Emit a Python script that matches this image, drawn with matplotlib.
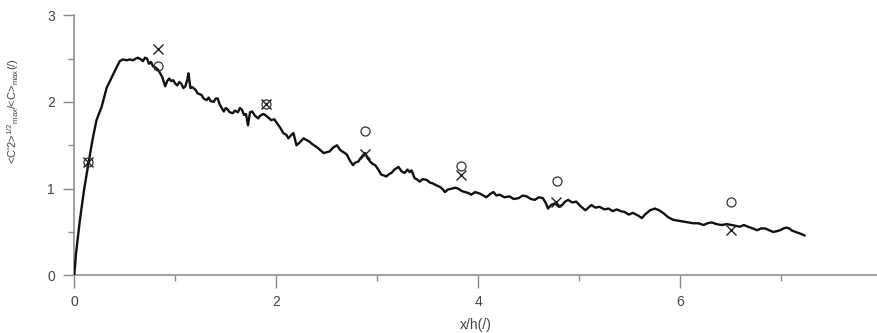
import matplotlib
matplotlib.use("Agg")
import matplotlib.pyplot as plt
from matplotlib.ticker import MultipleLocator

plt.rcParams['font.family'] = ['Liberation Sans', 'DejaVu Sans']
plt.rcParams['mathtext.fontset'] = 'custom'
plt.rcParams['mathtext.rm'] = 'Liberation Sans'
plt.rcParams['mathtext.it'] = 'Liberation Sans'

# measured profile (x/h, normalised rms)
line_x = [0.00, 0.017, 0.056, 0.096, 0.14, 0.18, 0.22, 0.27, 0.32, 0.39, 0.45, 0.48, 0.52, 0.55,
          0.58, 0.61, 0.63, 0.66, 0.68, 0.70, 0.72, 0.74, 0.76, 0.78, 0.80, 0.83, 0.85, 0.87,
          0.90, 0.92, 0.94, 0.96, 0.98, 1.00, 1.02, 1.04, 1.06, 1.08, 1.10, 1.12, 1.13, 1.15,
          1.17, 1.20, 1.22, 1.24, 1.26, 1.28, 1.31, 1.33, 1.35, 1.38, 1.40, 1.42, 1.44, 1.46,
          1.48, 1.50, 1.52, 1.54, 1.57, 1.59, 1.62, 1.64, 1.66, 1.68, 1.70, 1.72, 1.74, 1.76,
          1.79, 1.82, 1.84, 1.87, 1.89, 1.92, 1.95, 1.98, 2.01, 2.04, 2.07, 2.10, 2.12, 2.15,
          2.17, 2.19, 2.20, 2.23, 2.27, 2.30, 2.33, 2.36, 2.40, 2.43, 2.47, 2.50, 2.53, 2.56,
          2.60, 2.63, 2.65, 2.68, 2.70, 2.73, 2.76, 2.78, 2.81, 2.84, 2.88, 2.90, 2.93, 2.96,
          2.98, 3.01, 3.04, 3.07, 3.09, 3.12, 3.14, 3.17, 3.21, 3.24, 3.27, 3.30, 3.32, 3.34,
          3.37, 3.40, 3.42, 3.45, 3.49, 3.52, 3.55, 3.58, 3.62, 3.65, 3.67, 3.70, 3.74, 3.77,
          3.80, 3.84, 3.87, 3.90, 3.93, 3.97, 4.02, 4.05, 4.08, 4.12, 4.15, 4.18, 4.21, 4.26,
          4.31, 4.35, 4.40, 4.44, 4.48, 4.52, 4.56, 4.60, 4.64, 4.67, 4.69, 4.72, 4.76, 4.80,
          4.83, 4.86, 4.89, 4.93, 4.97, 5.01, 5.06, 5.09, 5.12, 5.16, 5.20, 5.25, 5.29, 5.33,
          5.37, 5.41, 5.45, 5.49, 5.53, 5.58, 5.62, 5.65, 5.67, 5.70, 5.75, 5.79, 5.83, 5.88,
          5.93, 5.98, 6.03, 6.08, 6.13, 6.18, 6.23, 6.27, 6.31, 6.36, 6.41, 6.46, 6.51, 6.55,
          6.59, 6.63, 6.67, 6.72, 6.76, 6.80, 6.84, 6.88, 6.92, 6.96, 6.99, 7.02, 7.05, 7.08,
          7.10, 7.14, 7.19, 7.23]
line_y = [0.00, 0.25, 0.64, 0.98, 1.29, 1.56, 1.79, 1.94, 2.16, 2.33, 2.47, 2.49, 2.48, 2.49,
          2.48, 2.50, 2.51, 2.49, 2.47, 2.51, 2.50, 2.44, 2.46, 2.41, 2.40, 2.37, 2.33, 2.29,
          2.18, 2.24, 2.27, 2.24, 2.25, 2.21, 2.19, 2.23, 2.21, 2.16, 2.18, 2.26, 2.33, 2.16,
          2.17, 2.14, 2.10, 2.09, 2.08, 2.04, 2.02, 2.05, 2.01, 2.00, 2.04, 2.04, 1.97, 1.93,
          1.89, 1.93, 1.91, 1.88, 1.87, 1.90, 1.88, 1.93, 1.91, 1.85, 1.86, 1.73, 1.88, 1.89,
          1.84, 1.81, 1.84, 1.86, 1.85, 1.82, 1.79, 1.80, 1.75, 1.70, 1.64, 1.62, 1.58, 1.62,
          1.64, 1.55, 1.50, 1.53, 1.58, 1.56, 1.54, 1.51, 1.48, 1.45, 1.41, 1.42, 1.43, 1.47,
          1.50, 1.45, 1.43, 1.41, 1.39, 1.32, 1.27, 1.30, 1.31, 1.36, 1.41, 1.36, 1.31, 1.28,
          1.27, 1.22, 1.16, 1.15, 1.14, 1.17, 1.18, 1.22, 1.25, 1.20, 1.18, 1.22, 1.19, 1.21,
          1.12, 1.10, 1.08, 1.11, 1.10, 1.07, 1.06, 1.04, 1.02, 0.99, 0.96, 0.99, 1.00, 1.01,
          1.00, 0.97, 0.96, 0.95, 0.93, 0.96, 0.94, 0.92, 0.90, 0.94, 0.96, 0.92, 0.93, 0.90,
          0.91, 0.88, 0.89, 0.92, 0.91, 0.88, 0.87, 0.90, 0.89, 0.83, 0.77, 0.81, 0.83, 0.79,
          0.81, 0.85, 0.87, 0.84, 0.85, 0.80, 0.75, 0.78, 0.81, 0.78, 0.79, 0.76, 0.77, 0.74,
          0.76, 0.74, 0.73, 0.70, 0.72, 0.69, 0.66, 0.70, 0.72, 0.75, 0.77, 0.75, 0.72, 0.67,
          0.64, 0.63, 0.62, 0.61, 0.60, 0.60, 0.58, 0.60, 0.61, 0.59, 0.58, 0.59, 0.58, 0.57,
          0.56, 0.58, 0.56, 0.54, 0.52, 0.54, 0.54, 0.52, 0.50, 0.51, 0.52, 0.54, 0.55, 0.54,
          0.52, 0.50, 0.48, 0.46]

# discrete measurements
circle_x = [0.14, 0.83, 1.90, 2.88, 3.83, 4.78, 6.50]
circle_y = [1.31, 2.41, 1.98, 1.67, 1.26, 1.09, 0.84]
cross_x = [0.14, 0.83, 1.90, 2.88, 3.83, 4.77, 6.50]
cross_y = [1.31, 2.61, 1.98, 1.40, 1.16, 0.84, 0.52]

x_ticks = [0, 2, 4, 6, 8]
y_ticks = [0, 1, 2, 3]

fig = plt.figure(figsize=(8.77, 3.33), dpi=100)
ax = fig.add_axes([0.0847, 0.1733, 0.9213, 0.781])

ax.plot(line_x, line_y, color='#111111', lw=1.7, zorder=3)
ax.plot(circle_x, circle_y, linestyle='none', marker='o', ms=6.5, mfc='none',
        mec='#333333', mew=0.9, zorder=4)
ax.plot(cross_x, cross_y, linestyle='none', marker='x', ms=6.5,
        mec='#222222', mew=1.0, zorder=4)

ax.set_xlim(0, 8)
ax.set_ylim(0, 3)
ax.set_xticks(x_ticks)
ax.set_yticks(y_ticks)
ax.xaxis.set_minor_locator(MultipleLocator(1))
ax.yaxis.set_minor_locator(MultipleLocator(0.5))

for s in ['top', 'right']:
    ax.spines[s].set_visible(False)
for s in ['left', 'bottom']:
    ax.spines[s].set_color('#888888')
    ax.spines[s].set_linewidth(1.1)

ax.tick_params(axis='x', which='major', direction='out', length=9.5, width=1.0,
               color='#888888', labelsize=10, labelcolor='#444444', pad=5)
ax.tick_params(axis='x', which='minor', direction='out', length=4.5, width=1.0,
               color='#888888')
ax.tick_params(axis='y', which='major', direction='out', length=8, width=1.0,
               color='#888888', labelsize=10, labelcolor='#444444', pad=6)
ax.tick_params(axis='y', which='minor', direction='out', length=4, width=1.0,
               color='#888888')

ax.set_xlabel('x/h(/)', fontsize=10, color='#444444')
ax.xaxis.set_label_coords(0.497, -0.165)
ax.set_ylabel(r"<C'2>$^{1/2}$$_{max}$/<C>$_{max}$(/)", fontsize=8, color='#444444')
ax.yaxis.set_label_coords(-0.066, 0.63)

fig.savefig('out.png', dpi=100)
